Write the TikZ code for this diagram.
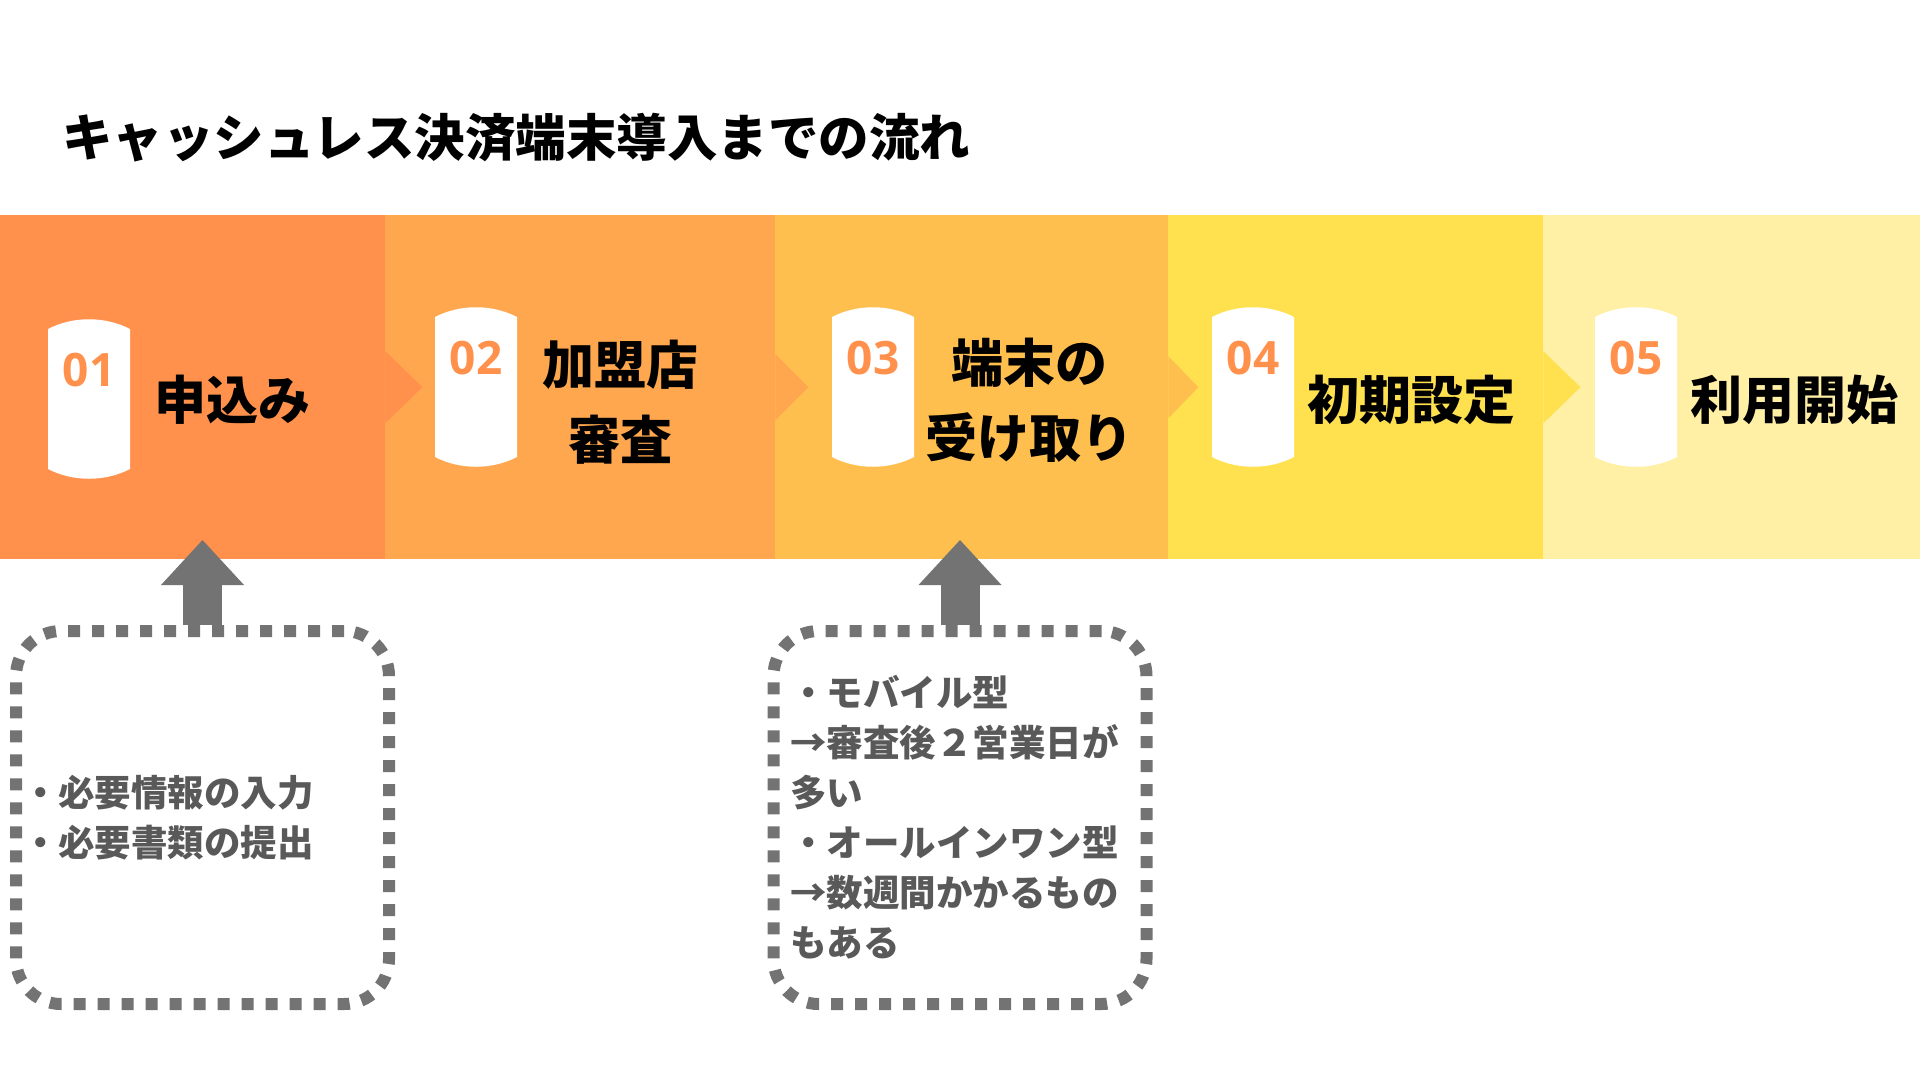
\documentclass[tikz,border=0pt]{standalone}
\usepackage{fontspec}
\usepackage{xcolor}
\usetikzlibrary{arrows.meta,positioning}
\newfontfamily\jpfont{Noto Sans CJK JP}
\newfontfamily\numfont{Open Sans}
\definecolor{stepA}{HTML}{FF914D}
\definecolor{stepB}{HTML}{FFA74F}
\definecolor{stepC}{HTML}{FFBF4F}
\definecolor{stepD}{HTML}{FFE150}
\definecolor{stepE}{HTML}{FFF0A6}
\definecolor{arrowgray}{HTML}{737373}
\definecolor{notegray}{HTML}{595959}
\tikzset{
  seg/.style={rectangle, inner sep=0pt, minimum height=344pt, anchor=north west},
  badgenum/.style={font=\numfont\bfseries\fontsize{46}{46}\selectfont, text=stepA, inner sep=0pt},
  steplabel/.style={font=\jpfont\bfseries\fontsize{52}{75}\selectfont, align=center, inner sep=0pt},
  notebox/.style={draw=arrowgray, line width=12pt, dash pattern=on 12pt off 12pt,
    rounded corners=45pt, minimum width=373pt, minimum height=373pt, inner ysep=0pt,
    text=notegray, font=\jpfont\bfseries\fontsize{36.5}{50}\selectfont, align=left},
  uparrow/.style={draw=arrowgray, line width=39pt,
    -{Triangle[length=45pt,width=83pt,line width=0pt]}}
}
% white badge with the step number: #1 left x, #2 top y, #3 number
\newcommand{\stepbadge}[3]{%
  \fill[white] (#1,#2+10) .. controls (#1+25,#2-3) and (#1+57,#2-3) .. (#1+82,#2+10)
    -- (#1+82,#2+150) .. controls (#1+57,#2+163) and (#1+25,#2+163) .. (#1,#2+150) -- cycle;
  \node[badgenum] (num#3) at (#1+41,#2+51) {#3};}

\begin{document}
\begin{tikzpicture}[x=1pt,y=-1pt]
  \useasboundingbox (0,0) rectangle (1920,1080);

  \node[font=\jpfont\bfseries\fontsize{50.5}{50}\selectfont, anchor=west, inner sep=0pt]
    (title) at (62,138) {キャッシュレス決済端末導入までの流れ};

  % band of steps
  \node[seg, fill=stepA, minimum width=385pt] (seg1) at (0,215) {};
  \node[seg, fill=stepB, minimum width=390pt] (seg2) at (385,215) {};
  \node[seg, fill=stepC, minimum width=393pt] (seg3) at (775,215) {};
  \node[seg, fill=stepD, minimum width=375pt] (seg4) at (1168,215) {};
  \node[seg, fill=stepE, minimum width=377pt] (seg5) at (1543,215) {};

  \fill[stepA] (seg1.east) ++(0,-36) -- ++(37,36) -- ++(-37,36) -- cycle;
  \fill[stepB] (seg2.east) ++(0,-33) -- ++(33,33) -- ++(-33,33) -- cycle;
  \fill[stepC] (seg3.east) ++(0,-31) -- ++(30,31) -- ++(-30,31) -- cycle;
  \fill[stepD] (seg4.east) ++(0,-36) -- ++(37,36) -- ++(-37,36) -- cycle;

  \stepbadge{48}{319}{01}
  \stepbadge{435}{307}{02}
  \stepbadge{832}{307}{03}
  \stepbadge{1212}{307}{04}
  \stepbadge{1595}{307}{05}

  \node[steplabel] (lab1) at (232,400) {申込み};
  \node[steplabel] (lab2) at (620,402) {加盟店\\審査};
  \node[steplabel] (lab3) at (1029,400) {端末の\\受け取り};
  \node[steplabel] (lab4) at (1411,400) {初期設定};
  \node[steplabel] (lab5) at (1794,400) {利用開始};

  % notes under steps 1 and 3
  \node[notebox, inner xsep=6pt, text width=361pt] (note1) at (202.5,817.5)
    {・必要情報の入力\\・必要書類の提出};
  \node[notebox, inner xsep=16pt, text width=340pt] (note2) at (960,817.5)
    {・モバイル型\\→審査後２営業日が\\多い\\・オールインワン型\\→数週間かかるもの\\もある};

  \coordinate (tip1) at (202.5,540);
  \coordinate (tip2) at (960,540);
  \draw[uparrow] (note1.north) -- (tip1);
  \draw[uparrow] (note2.north) -- (tip2);
\end{tikzpicture}
\end{document}
